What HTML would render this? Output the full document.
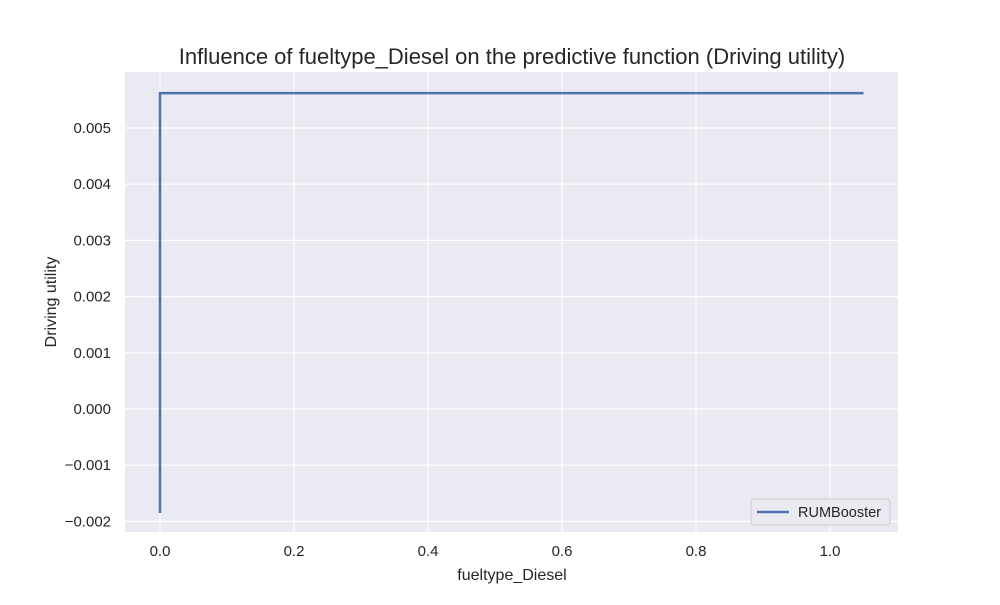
<!DOCTYPE html>
<html><head><meta charset="utf-8"><style>
body{margin:0;background:#fff;font-family:"Liberation Sans","DejaVu Sans",sans-serif;}
svg text{font-family:"Liberation Sans","DejaVu Sans",sans-serif;fill:#262626;}
</style></head><body>
<svg id="chart" width="1000" height="600" xmlns="http://www.w3.org/2000/svg">
<rect x="0" y="0" width="1000" height="600" fill="#fff"/>
<rect x="125" y="72" width="773" height="460" fill="#eaeaf2"/>
<g id="grid"></g><g id="xticks"></g><g id="yticks"></g><g id="series"></g>
<text x="512" y="64" font-size="22" text-anchor="middle">Influence of fueltype_Diesel on the predictive function (Driving utility)</text>
<text x="512" y="580" font-size="16" text-anchor="middle">fueltype_Diesel</text>
<text x="56" y="302" font-size="16" text-anchor="middle" transform="rotate(-90 56 302)">Driving utility</text>
<g>
<rect x="751" y="499" width="139" height="26" rx="3" fill="#eaeaf2" stroke="#ccc" stroke-width="1"/>
<line x1="757" y1="512" x2="789" y2="512" stroke="#4c72b0" stroke-width="2.5"/>
<text x="798" y="517" font-size="14.5">RUMBooster</text>
</g>
</svg>
<script>
const xTicks=[0,0.2,0.4,0.6,0.8,1.0];
const xTickLabels=["0.0","0.2","0.4","0.6","0.8","1.0"];
const yTicks=[-0.002,-0.001,0,0.001,0.002,0.003,0.004,0.005];
const yTickLabels=["\u22120.002","\u22120.001","0.000","0.001","0.002","0.003","0.004","0.005"];
const xValues=[0,0,1.05];
const yValues=[-0.00185,0.00562,0.00562];
const NS="http://www.w3.org/2000/svg";
function sx(v){return 160+v*670;}
function sy(v){return 409-v*56200;}
function mk(tag,attrs,parent,text){const e=document.createElementNS(NS,tag);for(const k in attrs)e.setAttribute(k,attrs[k]);if(text!==undefined)e.textContent=text;document.getElementById(parent).appendChild(e);return e;}
xTicks.forEach((t,i)=>{
 const g=mk('line',{x1:sx(t),x2:sx(t),y1:72,y2:532,stroke:'#fff','stroke-width':1.2},'grid');
 
 
 const l=mk('text',{x:sx(t),y:556,'font-size':15,'text-anchor':'middle'},'xticks',xTickLabels[i]);
 
 
});
yTicks.forEach((t,i)=>{
 const g=mk('line',{x1:125,x2:898,y1:sy(t),y2:sy(t),stroke:'#fff','stroke-width':1.2},'grid');
 
 
 const l=mk('text',{x:111,y:sy(t)+5,'font-size':15,'text-anchor':'end'},'yticks',yTickLabels[i]);
 
 
});
const pts=xValues.map((x,i)=>sx(x)+','+sy(yValues[i])).join(' ');
const pl=mk('polyline',{points:pts,fill:'none',stroke:'#4c72b0','stroke-width':2.5},'series');


</script>
</body></html>
